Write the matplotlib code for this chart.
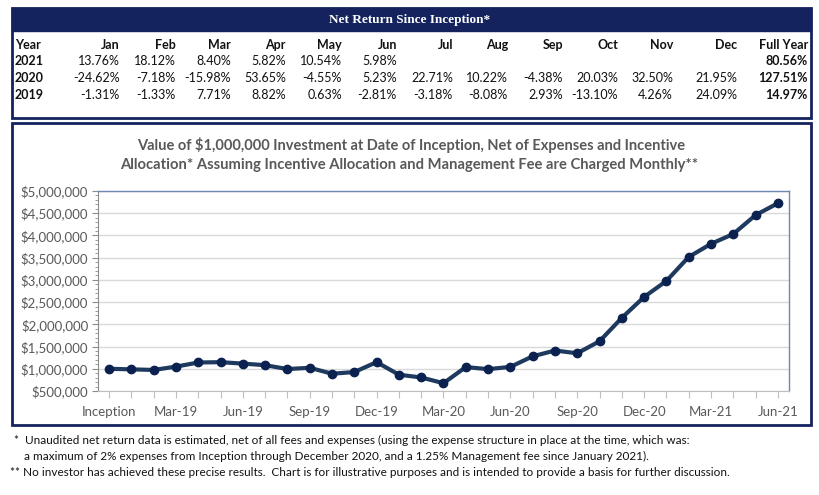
# Net return table + growth of $1,000,000 chart
import matplotlib.pyplot as plt
from matplotlib.patches import Rectangle
from matplotlib.ticker import MultipleLocator, FuncFormatter

# ---- data ----
years = ['2021', '2020', '2019']
months = ['Jan', 'Feb', 'Mar', 'Apr', 'May', 'Jun', 'Jul', 'Aug', 'Sep', 'Oct', 'Nov', 'Dec']
returns_2021 = ['13.76%', '18.12%', '8.40%', '5.82%', '10.54%', '5.98%', '', '', '', '', '', '']
returns_2020 = ['-24.62%', '-7.18%', '-15.98%', '53.65%', '-4.55%', '5.23%',
                '22.71%', '10.22%', '-4.38%', '20.03%', '32.50%', '21.95%']
returns_2019 = ['-1.31%', '-1.33%', '7.71%', '8.82%', '0.63%', '-2.81%',
                '-3.18%', '-8.08%', '2.93%', '-13.10%', '4.26%', '24.09%']
full_year = ['80.56%', '127.51%', '14.97%']

# Dec-18 (inception) through Jun-21
value = [1000000, 986900, 973774, 1048852, 1141361, 1148552, 1116277, 1080779,
         993452, 1022560, 888605, 926459, 1149643,
         866621, 804398, 675856, 1038453, 991203, 1043043, 1279918, 1410726,
         1348936, 1619129, 2145346, 2616250,
         2976246, 3515542, 3810848, 4032640, 4457680, 4724250]
tick_labels = ['Inception', 'Mar-19', 'Jun-19', 'Sep-19', 'Dec-19', 'Mar-20',
               'Jun-20', 'Sep-20', 'Dec-20', 'Mar-21', 'Jun-21']

NAVY = '#14235e'
GRAY = '#595959'
W, H = 820, 495


def fx(x):
    return x / W


def fy(y):
    return 1 - y / H


fig = plt.figure(figsize=(8.2, 4.95), dpi=100)
fig.patch.set_facecolor('white')
sans = ['Lato', 'DejaVu Sans']

# ---- table box ----
fig.add_artist(Rectangle((fx(12), fy(118)), fx(799), 110 / H, transform=fig.transFigure,
                         fill=False, edgecolor=NAVY, linewidth=2))
fig.add_artist(Rectangle((fx(12), fy(31)), fx(799), 23 / H, transform=fig.transFigure,
                         facecolor=NAVY, edgecolor=NAVY, linewidth=1))
fig.text(fx(410), fy(20), 'Net Return Since Inception*', color='white', ha='center', va='center',
         fontsize=9.5, fontweight='bold', family=['Liberation Serif', 'DejaVu Serif'])

col_x = [120, 176, 231, 286, 342, 397, 453, 508, 563, 618, 673, 737]
row_y = [61, 78, 95]
fig.text(fx(15), fy(45), 'Year', ha='left', va='center', fontsize=9, fontweight='bold',
         family=sans, color='#111111')
for m, x in zip(months, col_x):
    fig.text(fx(x), fy(45), m, ha='right', va='center', fontsize=9, fontweight='bold',
             family=sans, color='#111111')
fig.text(fx(808), fy(45), 'Full Year', ha='right', va='center', fontsize=9, fontweight='bold',
         family=sans, color='#111111')

for yr, vals, fy_val, y in zip(years, [returns_2021, returns_2020, returns_2019], full_year, row_y):
    fig.text(fx(15), fy(y), yr, ha='left', va='center', fontsize=9, fontweight='bold',
             family=sans, color='#111111')
    for v, x in zip(vals, col_x):
        fig.text(fx(x), fy(y), v, ha='right', va='center', fontsize=9, family=sans, color='#111111')
    fig.text(fx(808), fy(y), fy_val, ha='right', va='center', fontsize=9, fontweight='bold',
             family=sans, color='#111111')

# ---- chart box ----
fig.add_artist(Rectangle((fx(12), fy(425)), fx(799), 302 / H, transform=fig.transFigure,
                         fill=False, edgecolor=NAVY, linewidth=2))
fig.text(fx(411), fy(145), 'Value of $1,000,000 Investment at Date of Inception, Net of Expenses and Incentive',
         ha='center', va='center', fontsize=10.5, fontweight='bold', color=GRAY, family=sans)
fig.text(fx(409), fy(165), 'Allocation* Assuming Incentive Allocation and Management Fee are Charged Monthly**',
         ha='center', va='center', fontsize=10.6, fontweight='bold', color=GRAY, family=sans)

ax = fig.add_axes([fx(98), fy(391), (789 - 98) / W, 200 / H])
x = list(range(len(value)))
ax.plot(x, value, color='#1f3a5f', linewidth=3, marker='o', markersize=6,
        markerfacecolor='#0b2150', markeredgecolor='#0b2150', zorder=3)
ax.set_xlim(-0.5, len(value) - 0.5)
ax.set_ylim(500000, 5000000)
ax.yaxis.set_major_locator(MultipleLocator(500000))
ax.yaxis.set_minor_locator(MultipleLocator(100000))
ax.yaxis.set_major_formatter(FuncFormatter(lambda v, p: '${:,.0f}'.format(v)))
ax.grid(True, axis='y', color='#d9d9d9', linewidth=1)
ax.set_axisbelow(True)
ax.set_xticks(x)
ax.set_xticklabels([tick_labels[i // 3] if i % 3 == 0 else '' for i in x])
ax.tick_params(axis='x', length=5, color='#bfbfbf', labelsize=9.5, labelcolor=GRAY, pad=6)
ax.tick_params(axis='y', which='major', length=4, color='#8c8c8c', labelsize=9.5, labelcolor=GRAY, pad=3)
ax.tick_params(axis='y', which='minor', length=2, color='#8c8c8c')
for lab in ax.get_xticklabels() + ax.get_yticklabels():
    lab.set_family(sans)
for side in ['top', 'right']:
    ax.spines[side].set_color('#6f86b0')
    ax.spines[side].set_linewidth(1)
ax.spines['left'].set_color('#8c8c8c')
ax.spines['bottom'].set_color('#bfbfbf')

# ---- footnotes ----
foot = ['Liberation Sans Narrow', 'Lato', 'DejaVu Sans']
fig.text(fx(14), fy(440), '*  Unaudited net return data is estimated, net of all fees and expenses (using the expense structure in place at the time, which was:',
         ha='left', va='center', fontsize=8.45, family=foot, color='#111111')
fig.text(fx(24), fy(456), 'a maximum of 2% expenses from Inception through December 2020, and a 1.25% Management fee since January 2021).',
         ha='left', va='center', fontsize=8.45, family=foot, color='#111111')
fig.text(fx(10), fy(472), '** No investor has achieved these precise results.  Chart is for illustrative purposes and is intended to provide a basis for further discussion.',
         ha='left', va='center', fontsize=8.45, family=foot, color='#111111')

fig.savefig('out.png', dpi=100)
